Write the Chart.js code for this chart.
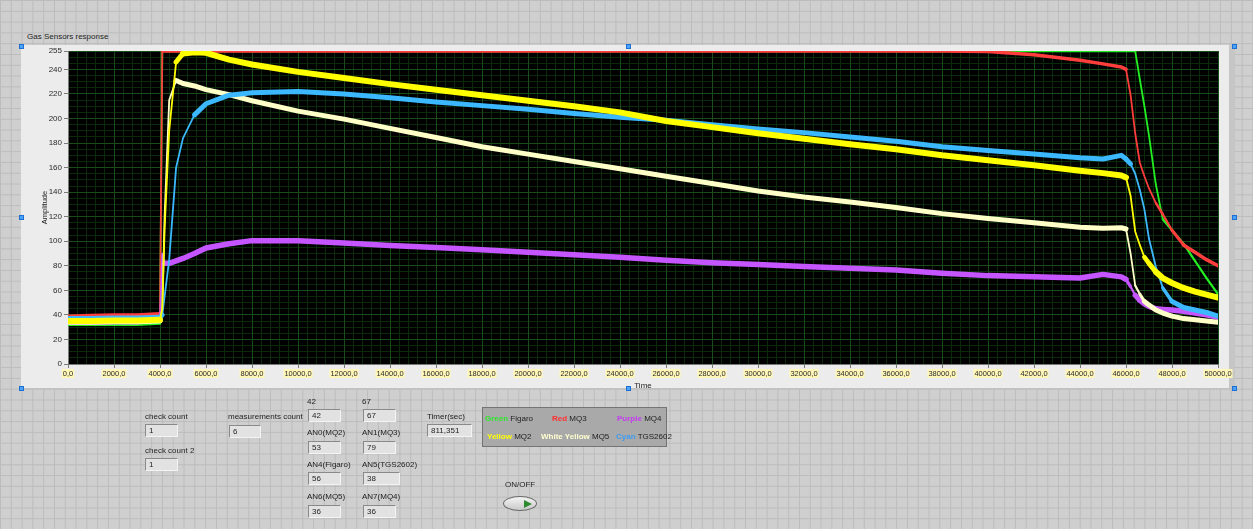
<!DOCTYPE html>
<html>
<head>
<meta charset="utf-8">
<script src="https://cdn.jsdelivr.net/npm/chart.js@4/dist/chart.umd.min.js"></script>
<style>
  html, body { margin: 0; padding: 0; }
  body {
    width: 1253px; height: 529px; overflow: hidden; position: relative;
    background-color: #cfcfcf;
    background-image:
      linear-gradient(to right, #bcbcbc 1px, transparent 1px),
      linear-gradient(to bottom, #bcbcbc 1px, transparent 1px);
    background-size: 10.8px 10.8px;
    font-family: "Liberation Sans", Arial, sans-serif;
    font-size: 8px;
    color: #1e1e1e;
  }
  .frame {
    position: absolute; left: 21px; top: 45px; width: 1208px; height: 343px;
    background: #ececec; border-right: 6px solid #c6c6c6;
    box-shadow: 0 2px 0 #c2c2c2;
  }
  .handle {
    position: absolute; width: 3px; height: 3px;
    background: #4aa3ff; border: 1px solid #1f6fd0;
  }
  .lbl { position: absolute; white-space: nowrap; line-height: 10px; }
  .box {
    position: absolute; height: 13px; box-sizing: border-box;
    background: #e2e2e2;
    border-top: 1px solid #8a8a8a; border-left: 1px solid #8a8a8a;
    border-right: 1px solid #f4f4f4; border-bottom: 1px solid #f4f4f4;
    line-height: 11px; padding-left: 3px; white-space: nowrap;
  }
  .legend {
    position: absolute; left: 482px; top: 407px; width: 185px; height: 40px;
    box-sizing: border-box; background: #a9a9a9;
    border: 1px solid #747474;
  }
  .legend .lbl b { font-weight: bold; }
  .toggle {
    position: absolute; left: 503px; top: 496px; width: 34px; height: 15px;
    box-sizing: border-box; border-radius: 50%;
    border: 1px solid #6a6a6a;
    background: linear-gradient(to bottom, #f4f4f4, #c9c9c9);
  }
  .toggle .arrow {
    position: absolute; left: 20px; top: 3px; width: 0; height: 0;
    border-top: 4px solid transparent; border-bottom: 4px solid transparent;
    border-left: 8px solid #2f8a2f;
  }
  canvas { position: absolute; left: 0; top: 0; }
</style>
</head>
<body>
<div class="frame"></div>
<div class="lbl" style="left:27px;top:32px;">Gas Sensors response</div>

<canvas id="plot" width="1253" height="529"></canvas>

<div class="handle" style="left:19px;top:44px;"></div>
<div class="handle" style="left:626px;top:44px;"></div>
<div class="handle" style="left:1232px;top:44px;"></div>
<div class="handle" style="left:19px;top:215px;"></div>
<div class="handle" style="left:1232px;top:215px;"></div>
<div class="handle" style="left:19px;top:386px;"></div>
<div class="handle" style="left:626px;top:386px;"></div>
<div class="handle" style="left:1232px;top:386px;"></div>

<!-- indicators below the graph -->
<div class="lbl" style="left:145px;top:412px;">check count</div>
<div class="box" style="left:145px;top:424px;width:33px;">1</div>
<div class="lbl" style="left:145px;top:446px;">check count 2</div>
<div class="box" style="left:145px;top:458px;width:33px;">1</div>

<div class="lbl" style="left:228px;top:412px;">measurements count</div>
<div class="box" style="left:229px;top:425px;width:32px;">6</div>

<div class="lbl" style="left:307px;top:397px;">42</div>
<div class="box" style="left:308px;top:409px;width:33px;">42</div>
<div class="lbl" style="left:362px;top:397px;">67</div>
<div class="box" style="left:363px;top:409px;width:33px;">67</div>

<div class="lbl" style="left:307px;top:428px;">AN0(MQ2)</div>
<div class="box" style="left:308px;top:441px;width:33px;">53</div>
<div class="lbl" style="left:362px;top:428px;">AN1(MQ3)</div>
<div class="box" style="left:363px;top:441px;width:33px;">79</div>

<div class="lbl" style="left:307px;top:460px;">AN4(Figaro)</div>
<div class="box" style="left:308px;top:472px;width:33px;">56</div>
<div class="lbl" style="left:362px;top:460px;">AN5(TGS2602)</div>
<div class="box" style="left:363px;top:472px;width:37px;">38</div>

<div class="lbl" style="left:307px;top:492px;">AN6(MQ5)</div>
<div class="box" style="left:308px;top:505px;width:33px;">36</div>
<div class="lbl" style="left:362px;top:492px;">AN7(MQ4)</div>
<div class="box" style="left:363px;top:505px;width:33px;">36</div>

<div class="lbl" style="left:427px;top:412px;">Timer(sec)</div>
<div class="box" style="left:427px;top:424px;width:45px;">811,351</div>

<div class="legend"></div>
<div class="lbl" style="left:485px;top:414px;"><b style="color:#2ee62e">Green</b> Figaro</div>
<div class="lbl" style="left:552px;top:414px;"><b style="color:#ff3030">Red</b> MQ3</div>
<div class="lbl" style="left:617px;top:414px;"><b style="color:#c43cf0">Purple</b> MQ4</div>
<div class="lbl" style="left:487px;top:432px;"><b style="color:#ffff00">Yellow</b> MQ2</div>
<div class="lbl" style="left:541px;top:432px;"><b style="color:#ffffd0">White Yellow</b> MQ5</div>
<div class="lbl" style="left:616px;top:432px;"><b style="color:#3f9cf0">Cyan</b> TGS2602</div>

<div class="lbl" style="left:505px;top:480px;">ON/OFF</div>
<div class="toggle"><div class="arrow"></div></div>

<script>
// Sample time axis shared by all six sensor traces
const timeSec = [0, 1000, 2000, 3000, 4000, 4100, 4200, 4400, 4700, 5000,
  5500, 6000, 7000, 8000, 10000, 12000, 14000, 16000, 18000, 20000,
  22000, 24000, 26000, 28000, 30000, 32000, 34000, 36000, 38000, 40000,
  42000, 44000, 45000, 45800, 46000, 46200, 46400, 46600, 46800, 47000,
  47300, 47600, 48000, 48500, 49000, 49500, 50000];

// MQ2 (yellow)
const mq2 = [35, 35, 35.5, 35.5, 36, 45, 110, 190, 246, 253,
  254, 253.5, 248, 244, 238, 233, 228, 223.5, 219, 214.5,
  210, 205, 198, 193, 188, 183.5, 179, 175, 170, 166,
  162, 157.5, 155.5, 153.5, 152, 137, 108, 97, 87, 82,
  75, 70, 66, 62, 59, 56.5, 54];

// TGS2602 (cyan)
const tgs2602 = [37, 37, 37.5, 37.5, 38, 40, 55, 85, 160, 184,
  203, 212, 219, 221, 222, 220, 217, 213.5, 210.5, 207.5,
  204, 201, 198.5, 195, 191.5, 188.5, 185, 181.5, 177, 174,
  171, 168, 167, 170, 167, 163, 155, 142, 126, 102,
  79, 62, 51, 46, 44, 42, 39];

// MQ5 (white yellow)
const mq5 = [34, 34, 34.5, 34.5, 35, 45, 120, 215, 231, 228.5,
  226.5, 223.5, 219.5, 214.5, 206, 199.5, 192, 184.5, 177, 171,
  165, 159, 153, 147, 141, 136, 132, 127.5, 122.5, 118.5,
  115, 111.5, 110.5, 111, 110, 90, 64, 57, 51, 48,
  44, 41.5, 39, 37, 36, 35, 34];

// MQ4 (purple)
const mq4 = [34, 34, 34.5, 34.5, 36, 90, 82, 82, 84, 86,
  90, 94.5, 98, 100.5, 100.5, 98.5, 96.5, 95, 93, 91,
  89, 87, 84.5, 82.5, 81, 79.5, 78, 76.5, 74, 72,
  71, 70, 73, 71, 69, 63, 56, 52, 49, 47,
  45, 44.5, 44, 43, 41.5, 40, 38];

// MQ3 (red), saturates at 255
const mq3 = [39, 39.5, 40, 40, 41, 255, 255, 255, 255, 255,
  255, 255, 255, 255, 255, 255, 255, 255, 255, 255,
  255, 255, 255, 255, 255, 255, 255, 255, 255, 254.5,
  252, 247.5, 244.5, 242, 240, 219, 188, 164, 153, 143,
  131, 122, 109, 97, 91, 85, 80];

// Figaro (green), saturates at 255
const figaro = [32, 32, 32, 32, 33, 255, 255, 255, 255, 255,
  255, 255, 255, 255, 255, 255, 255, 255, 255, 255,
  255, 255, 255, 255, 255, 255, 255, 255, 255, 255,
  255, 255, 255, 255, 255, 255, 255, 232, 210, 186,
  146, 118, 109, 98, 84, 70, 57];

// Axis tick values
const xTickValues = [0, 2000, 4000, 6000, 8000, 10000, 12000, 14000, 16000, 18000,
  20000, 22000, 24000, 26000, 28000, 30000, 32000, 34000, 36000, 38000,
  40000, 42000, 44000, 46000, 48000, 50000];
const yTickValues = [0, 20, 40, 60, 80, 100, 120, 140, 160, 180, 200, 220, 240, 255];

const FONT = '"Liberation Sans", Arial, sans-serif';

// fine grid: 5 divisions per x major step, 4 per y major step
const xMinorValues = [];
for (let v = 0; v <= 50000; v += 400) xMinorValues.push(v);
const yMinorValues = [];
for (let v = 0; v <= 255; v += 5) yMinorValues.push(v);

const toPoints = vals => vals.map((v, i) => ({ x: timeSec[i], y: v }));

// line width shrinks on steep transitions: full band width on flat runs,
// a thin stroke where the trace rises or falls sharply
const segWidth = base => ctx => {
  const dx = Math.max(Math.abs(ctx.p1.x - ctx.p0.x), 0.001);
  const ratio = Math.abs(ctx.p1.y - ctx.p0.y) / dx;
  if (ratio <= 1) return base;
  if (ratio >= 2) return 1.8;
  return base + (1.8 - base) * (ratio - 1);
};

const trace = (label, vals, color, width) => ({
  label, data: toPoints(vals), borderColor: color, backgroundColor: color,
  borderWidth: width, pointRadius: 0, fill: false, tension: 0, clip: 0,
  borderJoinStyle: 'round', borderCapStyle: 'round',
  segment: { borderWidth: segWidth(width) }
});

const plotBg = {
  id: 'plotBg',
  beforeDraw(chart) {
    const a = chart.chartArea, c = chart.ctx;
    c.save();
    c.fillStyle = '#000000';
    c.fillRect(a.left, a.top, a.right - a.left, a.bottom - a.top);
    c.restore();
  }
};

const fmtX = v => Number(v).toFixed(1).replace('.', ',');

new Chart(document.getElementById('plot'), {
  type: 'line',
  data: {
    datasets: [
      trace('MQ2', mq2, '#ffff00', 6),
      trace('TGS2602', tgs2602, '#3cb8ff', 5),
      trace('MQ5', mq5, '#ffffc8', 5),
      trace('MQ4', mq4, '#c555ff', 5.5),
      trace('MQ3', mq3, '#ff3d3d', 3.5),
      trace('Figaro', figaro, '#22ee22', 2.5)
    ]
  },
  plugins: [plotBg],
  options: {
    responsive: false,
    animation: false,
    events: [],
    layout: { padding: { left: 22, right: 35, top: 51, bottom: 138 } },
    plugins: { legend: { display: false }, tooltip: { enabled: false } },
    scales: {
      x: {
        type: 'linear', min: 0, max: 50000, position: 'bottom',
        afterBuildTicks: s => { s.ticks = xTickValues.map(v => ({ value: v })); },
        afterFit: s => { s.height = 27; },
        ticks: {
          autoSkip: false, maxRotation: 0, padding: 1,
          font: { family: FONT, size: 7.5 }, color: '#2a2a2a',
          callback: v => fmtX(v),
          showLabelBackdrop: true, backdropColor: '#fff6b8',
          backdropPadding: { x: 1, y: 0 }
        },
        grid: { color: '#1a4c1a', tickColor: '#7c7c7c', tickLength: 4, lineWidth: 1 },
        border: { color: '#7a7a7a' },
        title: { display: true, text: 'Time', color: '#222222',
                 font: { family: FONT, size: 8 }, padding: { top: 0, bottom: 0 } }
      },
      xMinor: {
        type: 'linear', min: 0, max: 50000, position: 'bottom',
        afterBuildTicks: s => { s.ticks = xMinorValues.map(v => ({ value: v })); },
        afterFit: s => { s.height = 0; },
        ticks: { display: false },
        grid: { color: '#0b290b', drawTicks: false, z: -2 },
        border: { display: false }
      },
      y: {
        type: 'linear', min: 0, max: 255, position: 'left',
        afterBuildTicks: s => { s.ticks = yTickValues.map(v => ({ value: v })); },
        afterFit: s => { s.width = 46; },
        ticks: { autoSkip: false, padding: 2, font: { family: FONT, size: 8 }, color: '#2a2a2a' },
        grid: { color: '#1a4c1a', tickColor: '#7c7c7c', tickLength: 4, lineWidth: 1 },
        border: { color: '#7a7a7a' },
        title: { display: true, text: 'Amplitude', color: '#222222',
                 font: { family: FONT, size: 7.5 }, padding: { top: 18, bottom: 0 } }
      },
      yMinor: {
        type: 'linear', min: 0, max: 255, position: 'left',
        afterBuildTicks: s => { s.ticks = yMinorValues.map(v => ({ value: v })); },
        afterFit: s => { s.width = 0; },
        ticks: { display: false },
        grid: { color: '#0b290b', drawTicks: false, z: -2 },
        border: { display: false }
      }
    }
  }
});
</script>
</body>
</html>
